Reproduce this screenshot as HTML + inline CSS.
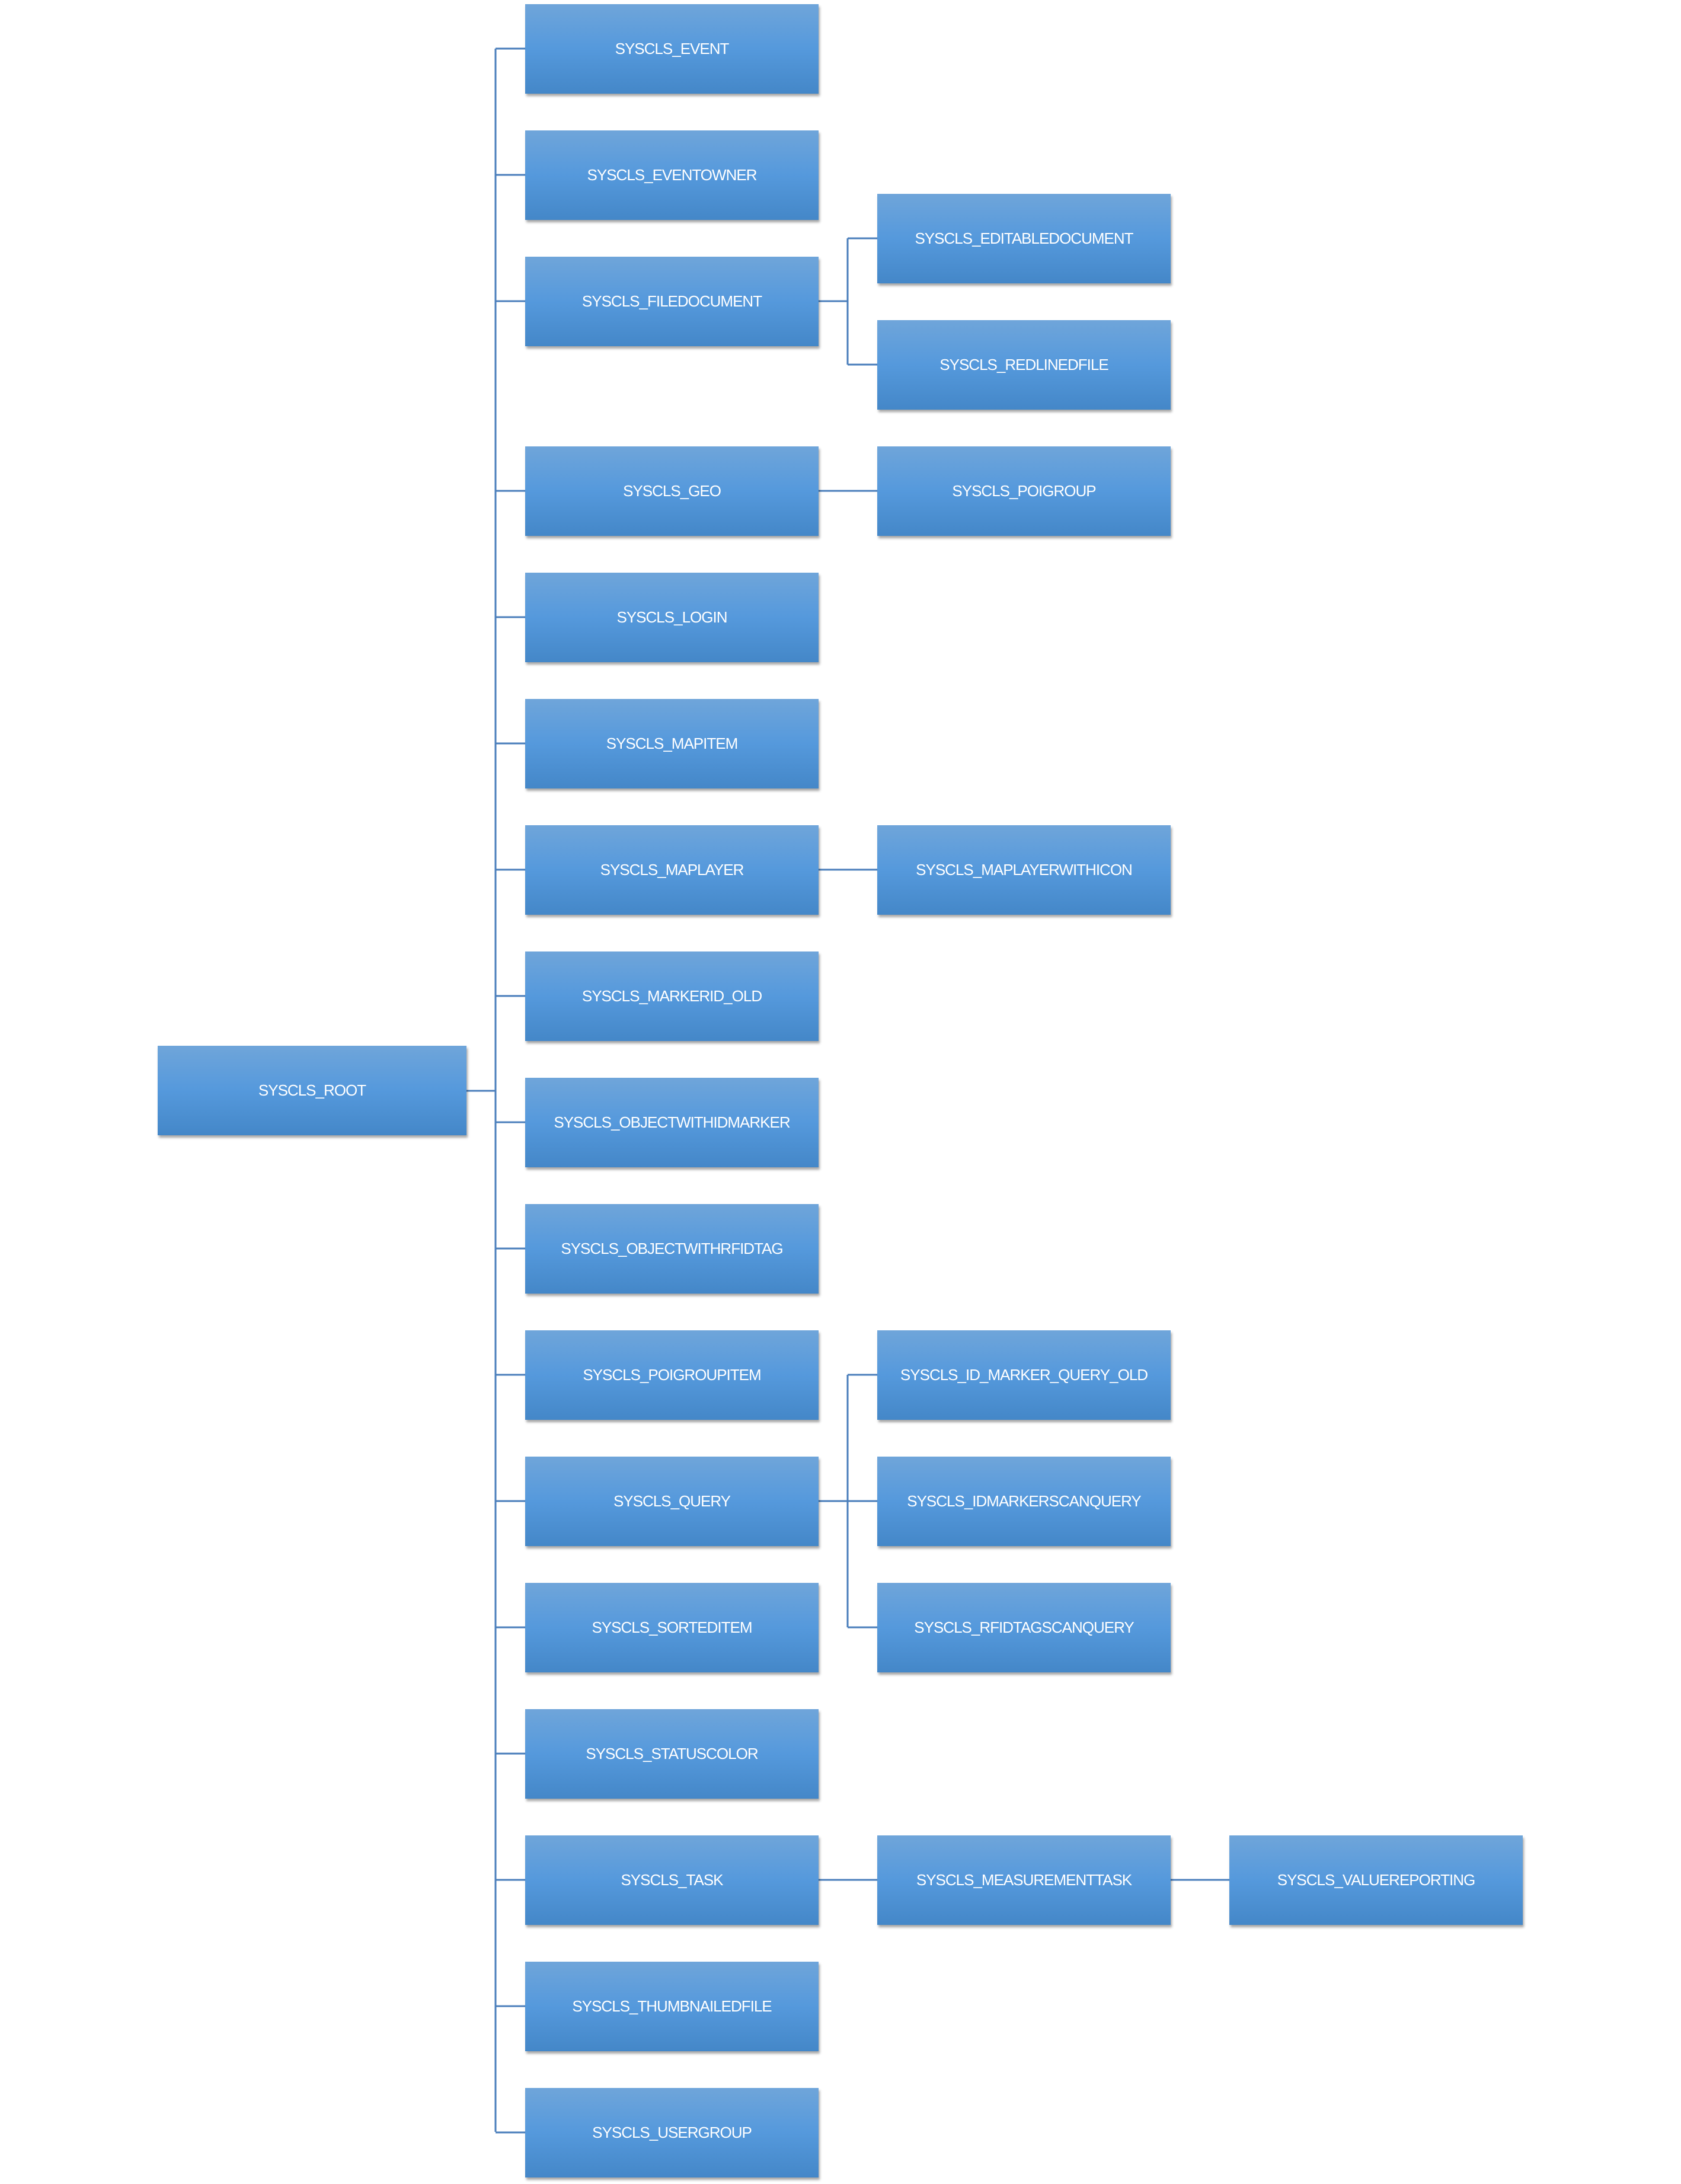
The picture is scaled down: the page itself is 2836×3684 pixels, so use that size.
<!DOCTYPE html>
<html><head><meta charset="utf-8"><style>
html,body{margin:0;padding:0;background:#fff;}
body{width:2836px;height:3684px;position:relative;overflow:hidden;font-family:"Liberation Sans",sans-serif;}
.b{position:absolute;width:495px;height:151px;background:linear-gradient(#6fa5da,#5599dc 50%,#4487c8);box-shadow:2px 4px 4px rgba(0,0,0,0.35);color:#fff;display:flex;align-items:center;justify-content:center;font-size:26px;letter-spacing:-1px;white-space:nowrap;}
svg{position:absolute;left:0;top:0;}
</style></head><body>
<svg width="2836" height="3684"><g stroke="#4a7ebb" stroke-width="3" fill="none">
<path d="M787 1840H836"/>
<path d="M836 82V3596"/>
<path d="M836 82H886M836 295H886M836 508H886M836 828H886M836 1041H886M836 1254H886M836 1467H886M836 1680H886M836 1893H886M836 2106H886M836 2319H886M836 2532H886M836 2745H886M836 2958H886M836 3171H886M836 3384H886M836 3597H886"/>
<path d="M1381 508H1430M1430 402V615M1430 402H1480M1430 615H1480"/>
<path d="M1381 828H1480"/>
<path d="M1381 1467H1480"/>
<path d="M1381 2532H1430M1430 2319V2745M1430 2319H1480M1430 2532H1480M1430 2745H1480"/>
<path d="M1381 3171H1480M1974 3171H2074"/>
</g></svg>
<div class="b" style="left:266px;top:1764px;width:521px">SYSCLS_ROOT</div>
<div class="b" style="left:886px;top:7px">SYSCLS_EVENT</div>
<div class="b" style="left:886px;top:220px">SYSCLS_EVENTOWNER</div>
<div class="b" style="left:886px;top:433px">SYSCLS_FILEDOCUMENT</div>
<div class="b" style="left:886px;top:753px">SYSCLS_GEO</div>
<div class="b" style="left:886px;top:966px">SYSCLS_LOGIN</div>
<div class="b" style="left:886px;top:1179px">SYSCLS_MAPITEM</div>
<div class="b" style="left:886px;top:1392px">SYSCLS_MAPLAYER</div>
<div class="b" style="left:886px;top:1605px">SYSCLS_MARKERID_OLD</div>
<div class="b" style="left:886px;top:1818px">SYSCLS_OBJECTWITHIDMARKER</div>
<div class="b" style="left:886px;top:2031px">SYSCLS_OBJECTWITHRFIDTAG</div>
<div class="b" style="left:886px;top:2244px">SYSCLS_POIGROUPITEM</div>
<div class="b" style="left:886px;top:2457px">SYSCLS_QUERY</div>
<div class="b" style="left:886px;top:2670px">SYSCLS_SORTEDITEM</div>
<div class="b" style="left:886px;top:2883px">SYSCLS_STATUSCOLOR</div>
<div class="b" style="left:886px;top:3096px">SYSCLS_TASK</div>
<div class="b" style="left:886px;top:3309px">SYSCLS_THUMBNAILEDFILE</div>
<div class="b" style="left:886px;top:3522px">SYSCLS_USERGROUP</div>
<div class="b" style="left:1480px;top:327px">SYSCLS_EDITABLEDOCUMENT</div>
<div class="b" style="left:1480px;top:540px">SYSCLS_REDLINEDFILE</div>
<div class="b" style="left:1480px;top:753px">SYSCLS_POIGROUP</div>
<div class="b" style="left:1480px;top:1392px">SYSCLS_MAPLAYERWITHICON</div>
<div class="b" style="left:1480px;top:2244px">SYSCLS_ID_MARKER_QUERY_OLD</div>
<div class="b" style="left:1480px;top:2457px">SYSCLS_IDMARKERSCANQUERY</div>
<div class="b" style="left:1480px;top:2670px">SYSCLS_RFIDTAGSCANQUERY</div>
<div class="b" style="left:1480px;top:3096px">SYSCLS_MEASUREMENTTASK</div>
<div class="b" style="left:2074px;top:3096px">SYSCLS_VALUEREPORTING</div>
</body></html>
